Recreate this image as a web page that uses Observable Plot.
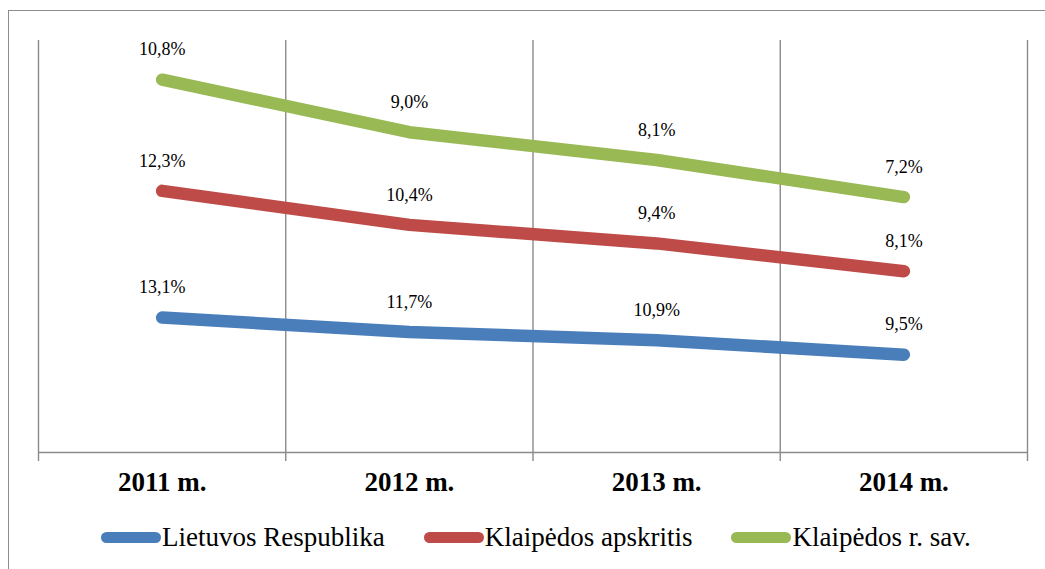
<!DOCTYPE html>
<html>
<head>
<meta charset="utf-8">
<script src="https://cdn.jsdelivr.net/npm/d3@7"></script>
<script src="https://cdn.jsdelivr.net/npm/@observablehq/plot@0.6"></script>
<style>
  html, body { margin: 0; padding: 0; background: #fff; }
  body { width: 1045px; height: 569px; overflow: hidden; position: relative; font-family: "Liberation Serif", "Times New Roman", serif; }
  #frame { position: absolute; left: 8px; top: 10px; width: 1100px; height: 600px; border-left: 1.5px solid #8c8c8c; border-top: 1.5px solid #8c8c8c; }
  #chart { position: absolute; left: 0; top: 0; }
  #legend { position: absolute; left: 101px; top: 521px; display: flex; align-items: center; gap: 39px; font-size: 27px; line-height: 32px; color: #000; }
  .item { display: flex; align-items: center; }
  .sw { width: 60px; height: 11px; border-radius: 5.5px; margin-right: 1px; }
</style>
</head>
<body>
<div id="frame"></div>
<div id="chart"></div>
<div id="legend"></div>
<script>
const years = ["2011 m.", "2012 m.", "2013 m.", "2014 m."];
const seriesNames = ["Lietuvos Respublika", "Klaipėdos apskritis", "Klaipėdos r. sav."];
const seriesColors = ["#4a7ebb", "#be4b48", "#98b954"];
const lietuvos = [13.1, 11.7, 10.9, 9.5];
const apskritis = [12.3, 10.4, 9.4, 8.1];
const rajonas = [10.8, 9.0, 8.1, 7.2];

const seriesValues = [lietuvos, apskritis, rajonas];
const data = [];
seriesNames.forEach((s, si) => {
  seriesValues[si].forEach((v, i) => data.push({series: s, xi: i + 0.5, year: years[i], value: v}));
});
const bounds = d3.range(years.length + 1);
const centers = years.map((_, i) => i + 0.5);
const fmt = v => v.toFixed(1).replace(".", ",") + "%";

const plot = Plot.plot({
  width: 1045,
  height: 505,
  marginLeft: 38,
  marginRight: 18,
  marginTop: 40,
  marginBottom: 53,
  style: {fontFamily: "'Liberation Serif', 'Times New Roman', serif", background: "transparent", overflow: "visible"},
  x: {type: "linear", domain: [0, years.length], axis: null, label: null},
  y: {domain: [0, 40], axis: null, label: null},
  color: {domain: seriesNames, range: seriesColors},
  marks: [
    Plot.ruleX(bounds, {y1: 0, y2: 40, stroke: "#8a8a8a", strokeWidth: 1.4}),
    Plot.ruleY([0], {stroke: "#8a8a8a", strokeWidth: 1.4}),
    Plot.axisX(bounds, {tickSize: 9, tickFormat: () => "", label: null, stroke: "#8a8a8a", strokeWidth: 1.4, strokeOpacity: 1}),
    Plot.axisX(centers, {tickSize: 0, tickPadding: 19, label: null, tickFormat: d => years[Math.floor(d)], fontSize: 27, fontWeight: "bold", fill: "#000"}),
    Plot.lineY(data, Plot.stackY2({x: "xi", y: "value", z: "series", stroke: "series", strokeWidth: 12.5, strokeLinecap: "round", strokeLinejoin: "round"})),
    Plot.text(data, Plot.stackY2({x: "xi", y: "value", z: "series", text: d => fmt(d.value), dy: -30, fontSize: 18, fill: "#000"}))
  ]
});
document.getElementById("chart").appendChild(plot);

const legend = document.getElementById("legend");
seriesNames.forEach((s, i) => {
  const it = document.createElement("div");
  it.className = "item";
  const sw = document.createElement("div");
  sw.className = "sw";
  sw.style.background = seriesColors[i];
  const t = document.createElement("span");
  t.textContent = s;
  it.appendChild(sw);
  it.appendChild(t);
  legend.appendChild(it);
});
</script>
</body>
</html>
